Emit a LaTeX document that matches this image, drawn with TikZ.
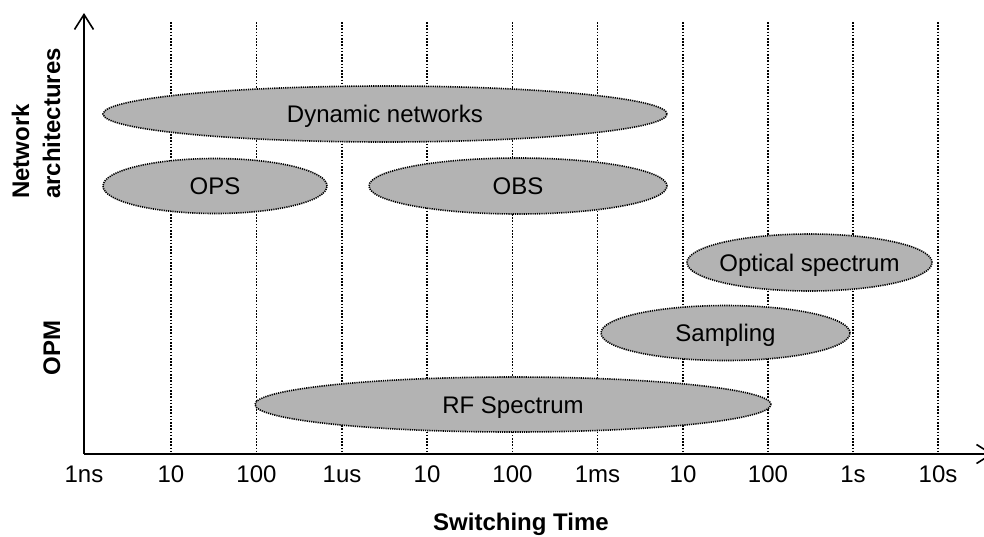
\documentclass[tikz,border=0pt]{standalone}
\usepackage{fontspec}
\setmainfont{Liberation Sans}
\usetikzlibrary{shapes.geometric,arrows.meta}

\definecolor{bubblegray}{RGB}{179,179,179}

\tikzset{
  axisline/.style={line width=1.8pt, -{Straight Barb[length=15pt,width=19pt,line width=1.6pt]}},
  gridline/.style={line width=1.8pt, dash pattern=on 1.6pt off 1.6pt},
  bubble/.style={ellipse, draw=black, fill=bubblegray, line width=1.6pt,
    dash pattern=on 1.2pt off 1.0pt, inner sep=0pt,
    text height=17.2pt, text depth=0pt,
    font=\fontsize{24}{28}\selectfont},
  ticklabel/.style={anchor=base, inner sep=0pt, font=\fontsize{24}{28}\selectfont},
  axistitle/.style={inner sep=0pt, font=\fontsize{24}{28}\selectfont\bfseries},
}

\begin{document}
\begin{tikzpicture}[x=1pt,y=-1pt]
  \useasboundingbox (0,0) rectangle (984,536);

  % vertical guide lines, one per decade
  \foreach \gx [count=\gi] in {171,256.5,342,427,512.5,597.5,683,768,853,938} {
    \coordinate (gt\gi) at (\gx,22);
    \coordinate (gb\gi) at (\gx,454);
    \draw[gridline] (gt\gi) -- (gb\gi);
  }

  % axes
  \coordinate (origin) at (84,454);
  \coordinate (ytop) at (84,13);
  \coordinate (xend) at (993,454);
  \draw[axisline] (origin) -- (ytop);
  \draw[axisline] (origin) -- (xend);

  % ranges of switching time (zero-width text boxes so the given sizes rule)
  \node[bubble, minimum width=564pt, minimum height=56pt] (dyn) at (385,114) {\makebox[0pt]{Dynamic networks}};
  \node[bubble, minimum width=224pt, minimum height=55pt] (ops) at (215,186) {\makebox[0pt]{OPS}};
  \node[bubble, minimum width=298pt, minimum height=56pt] (obs) at (518,186) {\makebox[0pt]{OBS}};
  \node[bubble, minimum width=245pt, minimum height=57pt] (osa) at (809.5,262.5) {\makebox[0pt]{Optical spectrum}};
  \node[bubble, minimum width=249pt, minimum height=55pt] (smp) at (725.5,333) {\makebox[0pt]{Sampling}};
  \node[bubble, minimum width=516pt, minimum height=55pt] (rfs) at (513,404.5) {\makebox[0pt]{RF Spectrum}};

  % time scale labels
  \node[ticklabel] (t0) at (84,482) {1ns};
  \node[ticklabel] (t1) at (171,482) {10};
  \node[ticklabel] (t2) at (256.5,482) {100};
  \node[ticklabel] (t3) at (342,482) {1us};
  \node[ticklabel] (t4) at (427,482) {10};
  \node[ticklabel] (t5) at (512.5,482) {100};
  \node[ticklabel] (t6) at (597.5,482) {1ms};
  \node[ticklabel] (t7) at (683,482) {10};
  \node[ticklabel] (t8) at (768,482) {100};
  \node[ticklabel] (t9) at (853,482) {1s};
  \node[ticklabel] (t10) at (938,482) {10s};

  % axis titles
  \node[axistitle, anchor=base] (xtitle) at (521,530) {Switching Time};
  \node[axistitle, rotate=90, anchor=base west] (ytitleA) at (29,199) {Network};
  \node[axistitle, rotate=90, anchor=base west] (ytitleB) at (60,199) {architectures};
  \node[axistitle, rotate=90, anchor=base] (ytitleC) at (60,348) {OPM};
\end{tikzpicture}
\end{document}
